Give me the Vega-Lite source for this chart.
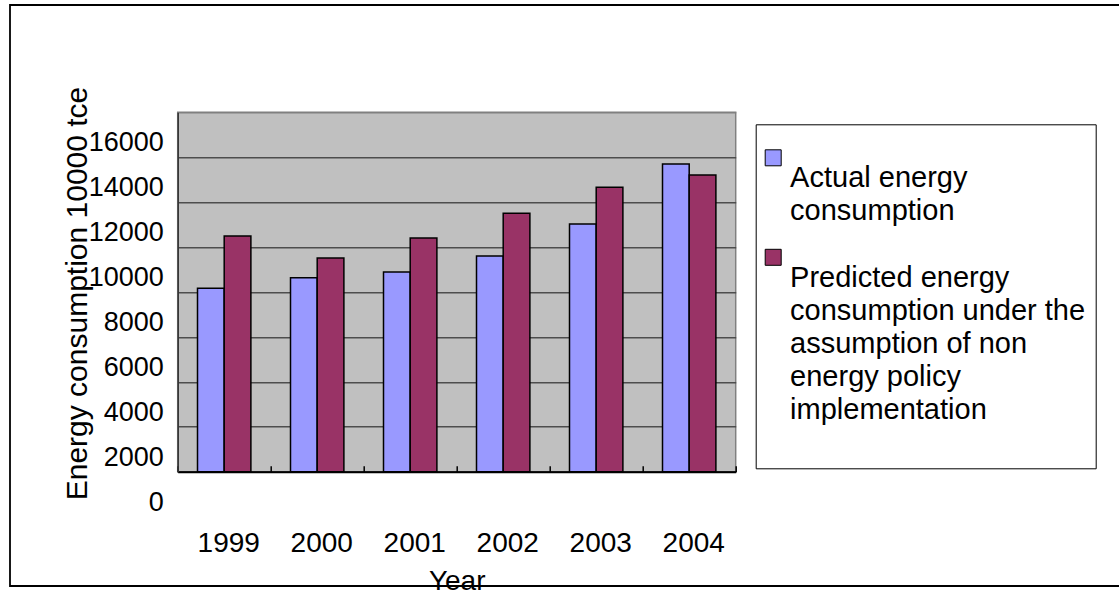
{
  "$schema": "https://vega.github.io/schema/vega-lite/v6.json",
  "width": 558,
  "height": 359.4,
  "autosize": "none",
  "padding": {"left": 177.7, "top": 112.3, "right": 383.3, "bottom": 121.3},
  "background": "white",
  "config": {
    "font": "Liberation Sans",
    "view": {"fill": "#C0C0C0", "stroke": "#808080", "strokeWidth": 1.5},
    "style": {"guide-label": {"lineHeight": 33}}
  },
  "resolve": {"scale": {"x": "independent", "y": "independent"}},
  "layer": [
    {
      "description": "Chart-area border",
      "data": {"values": [{}]},
      "mark": {"type": "rect", "fill": "transparent", "stroke": "black", "strokeWidth": 1.8},
      "encoding": {
        "x": {"datum": 0, "type": "quantitative", "scale": {"domain": [0, 1], "range": [-167.7, 960]}, "axis": null},
        "x2": {"datum": 1},
        "y": {"datum": 0, "type": "quantitative", "scale": {"domain": [0, 1], "range": [473.7, -107.3]}, "axis": null},
        "y2": {"datum": 1}
      }
    },
    {
      "data": {
        "values": [
          {"year": "1999", "series": "Actual energy consumption", "value": 8165},
          {"year": "1999", "series": "Predicted energy consumption under the assumption of non energy policy implementation", "value": 10494},
          {"year": "2000", "series": "Actual energy consumption", "value": 8637},
          {"year": "2000", "series": "Predicted energy consumption under the assumption of non energy policy implementation", "value": 9514},
          {"year": "2001", "series": "Actual energy consumption", "value": 8891},
          {"year": "2001", "series": "Predicted energy consumption under the assumption of non energy policy implementation", "value": 10404},
          {"year": "2002", "series": "Actual energy consumption", "value": 9603},
          {"year": "2002", "series": "Predicted energy consumption under the assumption of non energy policy implementation", "value": 11509},
          {"year": "2003", "series": "Actual energy consumption", "value": 11028},
          {"year": "2003", "series": "Predicted energy consumption under the assumption of non energy policy implementation", "value": 12662},
          {"year": "2004", "series": "Actual energy consumption", "value": 13699},
          {"year": "2004", "series": "Predicted energy consumption under the assumption of non energy policy implementation", "value": 13209}
        ]
      },
      "mark": {"type": "bar", "stroke": "black", "strokeWidth": 1.5},
      "encoding": {
        "x": {
          "field": "year",
          "type": "nominal",
          "scale": {"paddingInner": 0, "paddingOuter": 0},
          "axis": {
            "title": "Year",
            "titleFontSize": 28,
            "titleFontWeight": "normal",
            "titleColor": "black",
            "titleX": 279,
            "titleY": 117.5,
            "titleAlign": "center",
            "titleBaseline": "alphabetic",
            "labelAngle": 0,
            "labelFontSize": 28,
            "labelColor": "black",
            "labelPadding": 64,
            "labelOffset": 4,
            "labelBaseline": "top",
            "tickBand": "extent",
            "tickSize": -6,
            "tickColor": "black",
            "tickWidth": 1.5,
            "domainColor": "black",
            "domainWidth": 2,
            "grid": false
          }
        },
        "xOffset": {"field": "series", "scale": {"paddingInner": 0, "paddingOuter": 0.742}},
        "y": {
          "field": "value",
          "type": "quantitative",
          "scale": {"domain": [0, 16000], "nice": false},
          "axis": {
            "title": "Energy consumption 10000 tce",
            "titleFontSize": 30,
            "titleFontWeight": "normal",
            "titleColor": "black",
            "titleAngle": -90,
            "titleX": -91,
            "titleY": 180.7,
            "titleAlign": "center",
            "titleBaseline": "alphabetic",
            "values": [0, 2000, 4000, 6000, 8000, 10000, 12000, 14000, 16000],
            "format": "d",
            "labelFontSize": 27,
            "labelColor": "black",
            "labelOffset": 30.5,
            "labelPadding": 14.4,
            "ticks": false,
            "domainColor": "#333333",
            "domainWidth": 1.5,
            "grid": true,
            "gridColor": {"condition": {"test": "datum.value === 16000", "value": "#808080"}, "value": "#4d4d4d"},
            "gridWidth": 1.5
          }
        },
        "color": {
          "field": "series",
          "type": "nominal",
          "scale": {"range": ["#9999FF", "#993366"]},
          "legend": {
            "orient": "none",
            "legendX": 578,
            "legendY": 12,
            "title": " ",
            "titleFontSize": 4.5,
            "titlePadding": 9,
            "padding": 10,
            "strokeColor": "black",
            "fillColor": "white",
            "symbolType": "M-1,-1.5625H1V0.4375H-1Z",
            "symbolSize": 256,
            "symbolStrokeColor": "black",
            "symbolStrokeWidth": 1,
            "symbolOpacity": 1,
            "symbolOffset": -7,
            "labelFontSize": 29,
            "labelColor": "black",
            "labelLimit": 400,
            "labelOffset": 2.4,
            "labelBaseline": "line-top",
            "rowPadding": 20.5,
            "labelExpr": "datum.label == 'Actual energy consumption' ? ['Actual energy', 'consumption'] : ['Predicted energy', 'consumption under the', 'assumption of non', 'energy policy', 'implementation', '']"
          }
        }
      }
    }
  ]
}
